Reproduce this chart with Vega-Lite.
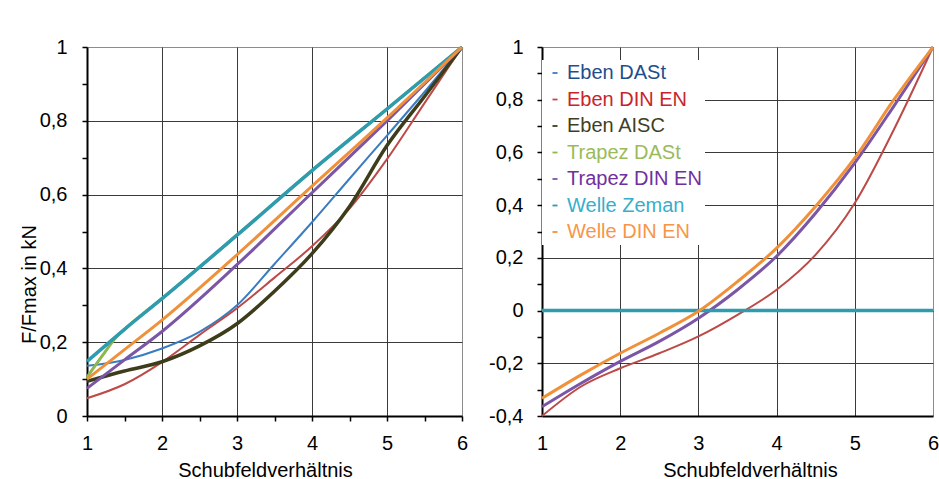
{
  "$schema": "https://vega.github.io/schema/vega-lite/v6.json",
  "padding": {"left": 18, "top": 36, "right": 0, "bottom": 0},
  "background": "white",
  "datasets": {
    "rows": [
      {"panel": "L", "serie": "Eben DASt", "x": 1, "y": 0.136},
      {"panel": "L", "serie": "Eben DASt", "x": 1.5, "y": 0.152},
      {"panel": "L", "serie": "Eben DASt", "x": 2, "y": 0.183},
      {"panel": "L", "serie": "Eben DASt", "x": 2.5, "y": 0.228},
      {"panel": "L", "serie": "Eben DASt", "x": 3, "y": 0.300},
      {"panel": "L", "serie": "Eben DASt", "x": 3.5, "y": 0.412},
      {"panel": "L", "serie": "Eben DASt", "x": 4, "y": 0.525},
      {"panel": "L", "serie": "Eben DASt", "x": 4.5, "y": 0.643},
      {"panel": "L", "serie": "Eben DASt", "x": 5, "y": 0.76},
      {"panel": "L", "serie": "Eben DASt", "x": 5.5, "y": 0.878},
      {"panel": "L", "serie": "Eben DASt", "x": 6, "y": 1},
      {"panel": "L", "serie": "Eben DIN EN", "x": 1, "y": 0.048},
      {"panel": "L", "serie": "Eben DIN EN", "x": 1.5, "y": 0.086},
      {"panel": "L", "serie": "Eben DIN EN", "x": 2, "y": 0.146},
      {"panel": "L", "serie": "Eben DIN EN", "x": 2.5, "y": 0.22},
      {"panel": "L", "serie": "Eben DIN EN", "x": 3, "y": 0.292},
      {"panel": "L", "serie": "Eben DIN EN", "x": 3.5, "y": 0.375},
      {"panel": "L", "serie": "Eben DIN EN", "x": 4, "y": 0.46},
      {"panel": "L", "serie": "Eben DIN EN", "x": 4.5, "y": 0.562},
      {"panel": "L", "serie": "Eben DIN EN", "x": 5, "y": 0.696},
      {"panel": "L", "serie": "Eben DIN EN", "x": 5.5, "y": 0.848},
      {"panel": "L", "serie": "Eben DIN EN", "x": 6, "y": 1},
      {"panel": "L", "serie": "Eben AISC", "x": 1, "y": 0.094},
      {"panel": "L", "serie": "Eben AISC", "x": 1.5, "y": 0.122},
      {"panel": "L", "serie": "Eben AISC", "x": 2, "y": 0.147},
      {"panel": "L", "serie": "Eben AISC", "x": 2.5, "y": 0.19},
      {"panel": "L", "serie": "Eben AISC", "x": 3, "y": 0.25},
      {"panel": "L", "serie": "Eben AISC", "x": 3.5, "y": 0.338},
      {"panel": "L", "serie": "Eben AISC", "x": 4, "y": 0.44},
      {"panel": "L", "serie": "Eben AISC", "x": 4.5, "y": 0.568},
      {"panel": "L", "serie": "Eben AISC", "x": 5, "y": 0.733},
      {"panel": "L", "serie": "Eben AISC", "x": 5.5, "y": 0.866},
      {"panel": "L", "serie": "Eben AISC", "x": 6, "y": 1},
      {"panel": "L", "serie": "Trapez DASt", "x": 1, "y": 0.105},
      {"panel": "L", "serie": "Trapez DASt", "x": 1.2, "y": 0.162},
      {"panel": "L", "serie": "Trapez DASt", "x": 1.4, "y": 0.216},
      {"panel": "L", "serie": "Trapez DASt", "x": 1.5, "y": 0.235},
      {"panel": "L", "serie": "Trapez DASt", "x": 2, "y": 0.318},
      {"panel": "L", "serie": "Trapez DASt", "x": 3, "y": 0.49},
      {"panel": "L", "serie": "Trapez DASt", "x": 4, "y": 0.665},
      {"panel": "L", "serie": "Trapez DASt", "x": 5, "y": 0.832},
      {"panel": "L", "serie": "Trapez DASt", "x": 6, "y": 1},
      {"panel": "L", "serie": "Trapez DIN EN", "x": 1, "y": 0.075},
      {"panel": "L", "serie": "Trapez DIN EN", "x": 1.5, "y": 0.152},
      {"panel": "L", "serie": "Trapez DIN EN", "x": 2, "y": 0.229},
      {"panel": "L", "serie": "Trapez DIN EN", "x": 3, "y": 0.41},
      {"panel": "L", "serie": "Trapez DIN EN", "x": 4, "y": 0.605},
      {"panel": "L", "serie": "Trapez DIN EN", "x": 5, "y": 0.80},
      {"panel": "L", "serie": "Trapez DIN EN", "x": 6, "y": 1},
      {"panel": "L", "serie": "Welle Zeman", "x": 1, "y": 0.148},
      {"panel": "L", "serie": "Welle Zeman", "x": 1.5, "y": 0.235},
      {"panel": "L", "serie": "Welle Zeman", "x": 2, "y": 0.318},
      {"panel": "L", "serie": "Welle Zeman", "x": 3, "y": 0.49},
      {"panel": "L", "serie": "Welle Zeman", "x": 4, "y": 0.665},
      {"panel": "L", "serie": "Welle Zeman", "x": 5, "y": 0.832},
      {"panel": "L", "serie": "Welle Zeman", "x": 6, "y": 1},
      {"panel": "L", "serie": "Welle DIN EN", "x": 1, "y": 0.10},
      {"panel": "L", "serie": "Welle DIN EN", "x": 1.5, "y": 0.18},
      {"panel": "L", "serie": "Welle DIN EN", "x": 2, "y": 0.26},
      {"panel": "L", "serie": "Welle DIN EN", "x": 3, "y": 0.437},
      {"panel": "L", "serie": "Welle DIN EN", "x": 4, "y": 0.623},
      {"panel": "L", "serie": "Welle DIN EN", "x": 5, "y": 0.808},
      {"panel": "L", "serie": "Welle DIN EN", "x": 6, "y": 1},
      {"panel": "R", "serie": "Eben DIN EN", "x": 1, "y": -0.40},
      {"panel": "R", "serie": "Eben DIN EN", "x": 1.5, "y": -0.288},
      {"panel": "R", "serie": "Eben DIN EN", "x": 2, "y": -0.219},
      {"panel": "R", "serie": "Eben DIN EN", "x": 2.5, "y": -0.162},
      {"panel": "R", "serie": "Eben DIN EN", "x": 3, "y": -0.098},
      {"panel": "R", "serie": "Eben DIN EN", "x": 3.5, "y": -0.016},
      {"panel": "R", "serie": "Eben DIN EN", "x": 4, "y": 0.079},
      {"panel": "R", "serie": "Eben DIN EN", "x": 4.5, "y": 0.212},
      {"panel": "R", "serie": "Eben DIN EN", "x": 5, "y": 0.408},
      {"panel": "R", "serie": "Eben DIN EN", "x": 5.5, "y": 0.687},
      {"panel": "R", "serie": "Eben DIN EN", "x": 6, "y": 1},
      {"panel": "R", "serie": "Trapez DIN EN", "x": 1, "y": -0.365},
      {"panel": "R", "serie": "Trapez DIN EN", "x": 1.5, "y": -0.276},
      {"panel": "R", "serie": "Trapez DIN EN", "x": 2, "y": -0.193},
      {"panel": "R", "serie": "Trapez DIN EN", "x": 2.5, "y": -0.117},
      {"panel": "R", "serie": "Trapez DIN EN", "x": 3, "y": -0.029},
      {"panel": "R", "serie": "Trapez DIN EN", "x": 3.5, "y": 0.079},
      {"panel": "R", "serie": "Trapez DIN EN", "x": 4, "y": 0.206},
      {"panel": "R", "serie": "Trapez DIN EN", "x": 4.5, "y": 0.37},
      {"panel": "R", "serie": "Trapez DIN EN", "x": 5, "y": 0.56},
      {"panel": "R", "serie": "Trapez DIN EN", "x": 5.5, "y": 0.776},
      {"panel": "R", "serie": "Trapez DIN EN", "x": 6, "y": 1},
      {"panel": "R", "serie": "Welle Zeman", "x": 1, "y": 0},
      {"panel": "R", "serie": "Welle Zeman", "x": 6, "y": 0},
      {"panel": "R", "serie": "Welle DIN EN", "x": 1, "y": -0.333},
      {"panel": "R", "serie": "Welle DIN EN", "x": 1.5, "y": -0.244},
      {"panel": "R", "serie": "Welle DIN EN", "x": 2, "y": -0.162},
      {"panel": "R", "serie": "Welle DIN EN", "x": 2.5, "y": -0.086},
      {"panel": "R", "serie": "Welle DIN EN", "x": 3, "y": -0.003},
      {"panel": "R", "serie": "Welle DIN EN", "x": 3.5, "y": 0.11},
      {"panel": "R", "serie": "Welle DIN EN", "x": 4, "y": 0.237},
      {"panel": "R", "serie": "Welle DIN EN", "x": 4.5, "y": 0.396},
      {"panel": "R", "serie": "Welle DIN EN", "x": 5, "y": 0.579},
      {"panel": "R", "serie": "Welle DIN EN", "x": 5.5, "y": 0.80},
      {"panel": "R", "serie": "Welle DIN EN", "x": 6, "y": 1}
    ]
  },
  "data": {"name": "rows"},
  "spacing": 80,
  "bounds": "flush",
  "resolve": {"legend": {"color": "independent"}},
  "hconcat": [
    {
      "width": 375,
      "height": 369,
      "transform": [{"filter": "datum.panel == 'L'"}],
      "mark": {"type": "line", "interpolate": "monotone"},
      "encoding": {
        "x": {
          "field": "x", "type": "quantitative",
          "scale": {"domain": [1, 6], "nice": false, "zero": false},
          "axis": {
            "title": "Schubfeldverhältnis",
            "titleX": 178, "titleY": 44,
            "values": [1, 1.5, 2, 2.5, 3, 3.5, 4, 4.5, 5, 5.5, 6],
            "labelExpr": "datum.value % 1 == 0 ? toString(datum.value) : ''",
            "labelPadding": 12,
            "gridOpacity": {"condition": {"test": "datum.value % 1 == 0 && datum.value > 1 && datum.value < 6", "value": 1}, "value": 0}
          }
        },
        "y": {
          "field": "y", "type": "quantitative",
          "scale": {"domain": [0, 1], "nice": false, "zero": false},
          "axis": {
            "title": "F/Fmax in kN",
            "titleX": -48, "titleY": 237,
            "values": [0, 0.1, 0.2, 0.3, 0.4, 0.5, 0.6, 0.7, 0.8, 0.9, 1],
            "labelExpr": "round(datum.value*10) % 2 == 0 ? replace(toString(round(datum.value*10)/10), '.', ',') : ''",
            "labelPadding": 15,
            "gridOpacity": {"condition": {"test": "round(datum.value*10) % 2 == 0 && datum.value > 0.01 && datum.value < 0.99", "value": 1}, "value": 0}
          }
        },
        "color": {
          "field": "serie", "type": "nominal",
          "scale": {
            "domain": ["Eben DASt", "Eben DIN EN", "Eben AISC", "Trapez DASt", "Trapez DIN EN", "Welle Zeman", "Welle DIN EN"],
            "range": ["#3A7CC1", "#BC4A47", "#3D3D1C", "#8CB84E", "#7B55A6", "#2F9BAE", "#F0913A"]
          },
          "legend": null
        },
        "strokeWidth": {
          "field": "serie", "type": "nominal",
          "scale": {
            "type": "ordinal",
            "domain": ["Eben DASt", "Eben DIN EN", "Eben AISC", "Trapez DASt", "Trapez DIN EN", "Welle Zeman", "Welle DIN EN"],
            "range": [2, 2, 3.5, 3, 3, 3.5, 3]
          },
          "legend": null
        }
      }
    },
    {
      "width": 391,
      "height": 369,
      "transform": [{"filter": "datum.panel == 'R'"}],
      "mark": {"type": "line", "interpolate": "monotone"},
      "encoding": {
        "x": {
          "field": "x", "type": "quantitative",
          "scale": {"domain": [1, 6], "nice": false, "zero": false},
          "axis": {
            "title": "Schubfeldverhältnis",
            "titleX": 208, "titleY": 44,
            "values": [1, 2, 3, 4, 5, 6],
            "ticks": false,
            "labelPadding": 17,
            "gridOpacity": {"condition": {"test": "datum.value > 1 && datum.value < 6", "value": 1}, "value": 0}
          }
        },
        "y": {
          "field": "y", "type": "quantitative",
          "scale": {"domain": [-0.4, 1], "nice": false, "zero": false},
          "axis": {
            "title": null,
            "values": [-0.4, -0.3, -0.2, -0.1, 0, 0.1, 0.2, 0.3, 0.4, 0.5, 0.6, 0.7, 0.8, 0.9, 1],
            "labelExpr": "round(datum.value*10) % 2 == 0 ? replace(toString(round(datum.value*10)/10), '.', ',') : ''",
            "labelPadding": 14,
            "gridOpacity": {"condition": {"test": "round(datum.value*10) % 2 == 0 && datum.value > -0.39 && datum.value < 0.99", "value": 1}, "value": 0}
          }
        },
        "color": {
          "field": "serie", "type": "nominal",
          "scale": {
            "domain": ["Eben DASt", "Eben DIN EN", "Eben AISC", "Trapez DASt", "Trapez DIN EN", "Welle Zeman", "Welle DIN EN"],
            "range": ["#3A7CC1", "#BC4A47", "#3D3D1C", "#8CB84E", "#7B55A6", "#2F9BAE", "#F0913A"]
          },
          "legend": {
            "title": null,
            "orient": "none",
            "legendX": 0,
            "legendY": 13,
            "padding": 3,
            "fillColor": "white",
            "strokeColor": null,
            "rowPadding": 6.5,
            "labelOffset": 2,
            "symbolType": "stroke",
            "symbolSize": 25,
            "symbolStrokeWidth": 1.8,
            "labelFontSize": 20,
            "labelFont": "Liberation Sans",
            "labelLimit": 300,
            "encode": {
              "labels": {
                "update": {
                  "fill": {"signal": "({'Eben DASt':'#1F4E8C','Eben DIN EN':'#C8252B','Eben AISC':'#3F3F1F','Trapez DASt':'#9BBB59','Trapez DIN EN':'#7030A0','Welle Zeman':'#38AECB','Welle DIN EN':'#F79646'})[datum.label]"}
                }
              }
            }
          }
        },
        "strokeWidth": {
          "field": "serie", "type": "nominal",
          "scale": {
            "type": "ordinal",
            "domain": ["Eben DASt", "Eben DIN EN", "Eben AISC", "Trapez DASt", "Trapez DIN EN", "Welle Zeman", "Welle DIN EN"],
            "range": [2, 2, 3.5, 3, 3.5, 4, 3.5]
          },
          "legend": null
        }
      }
    }
  ],
  "config": {
    "font": "Liberation Sans",
    "view": {"stroke": "#8c8c8c", "strokeWidth": 1},
    "axis": {
      "labelFont": "Liberation Sans",
      "labelFontSize": 20,
      "labelColor": "black",
      "titleFont": "Liberation Sans",
      "titleFontSize": 20,
      "titleFontWeight": "normal",
      "titleColor": "black",
      "labelFlush": false,
      "labelOverlap": false,
      "tickSize": 5,
      "tickColor": "black",
      "tickWidth": 1.5,
      "domainColor": "black",
      "domainWidth": 2,
      "grid": true,
      "gridColor": "#3a3a3a",
      "gridWidth": 1
    }
  }
}
